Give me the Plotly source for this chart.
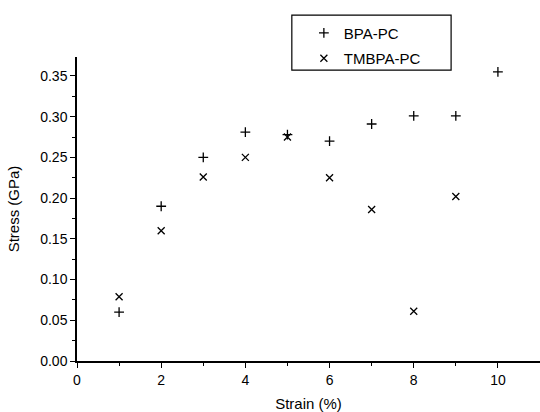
import plotly.graph_objects as go

strain = [1, 2, 3, 4, 5, 6, 7, 8, 9, 10]
bpa_pc = [0.060, 0.190, 0.250, 0.281, 0.278, 0.270, 0.291, 0.301, 0.301, 0.355]
tmbpa_x = [1, 2, 3, 4, 5, 6, 7, 8, 9]
tmbpa_pc = [0.079, 0.160, 0.226, 0.250, 0.275, 0.225, 0.186, 0.061, 0.202]

x_ticks = [0, 2, 4, 6, 8, 10]
y_ticks = [0.00, 0.05, 0.10, 0.15, 0.20, 0.25, 0.30, 0.35]
y_labels = ["0.00", "0.05", "0.10", "0.15", "0.20", "0.25", "0.30", "0.35"]

fig = go.Figure()
fig.add_trace(go.Scatter(
    x=strain, y=bpa_pc, mode="markers", name="BPA-PC", legendgroup="a",
    marker=dict(symbol="cross-thin", size=7, color="black", line=dict(color="black", width=1.3)),
))
fig.add_trace(go.Scatter(
    x=tmbpa_x, y=tmbpa_pc, mode="markers", name="TMBPA-PC", legendgroup="b",
    marker=dict(symbol="x-thin", size=7, color="black", line=dict(color="black", width=1.3)),
))

fam = "Liberation Sans, Arial, sans-serif"

fig.update_layout(
    width=540, height=412,
    margin=dict(l=77, r=0, t=57, b=51),
    paper_bgcolor="white", plot_bgcolor="white",
    font=dict(family=fam, size=14, color="black"),
    showlegend=True,
    legend=dict(
        x=0.49, y=1.133, xanchor="left", yanchor="top",
        borderwidth=0, bgcolor="rgba(0,0,0,0)",
        font=dict(family=fam, size=15, color="black"),
        itemwidth=30, tracegroupgap=3,
    ),
    shapes=[dict(
        type="rect", xref="paper", yref="paper",
        x0=0.464, x1=0.808, y0=0.957, y1=1.138,
        line=dict(color="black", width=1.2), fillcolor="rgba(0,0,0,0)", layer="above",
    )],
    xaxis=dict(
        range=[0, 11], tickvals=x_ticks, ticktext=[str(v) for v in x_ticks],
        showgrid=False, zeroline=False, showline=True, linecolor="black", linewidth=1.5,
        ticks="outside", ticklen=5, tickwidth=1.2, tickcolor="black", automargin=False,
        minor=dict(ticks="outside", ticklen=3, tickwidth=1, tickcolor="black", dtick=1, tick0=0),
        title=dict(text="Strain (%)", standoff=12, font=dict(size=15)),
    ),
    yaxis=dict(
        range=[0, 0.3733], tickvals=y_ticks, ticktext=y_labels,
        showgrid=False, zeroline=False, showline=True, linecolor="black", linewidth=1.5,
        ticks="outside", ticklen=5, tickwidth=1.2, tickcolor="black", automargin=False,
        minor=dict(ticks="outside", ticklen=3, tickwidth=1, tickcolor="black", dtick=0.025, tick0=0),
        title=dict(text="Stress (GPa)", standoff=17, font=dict(size=15)),
    ),
)

fig.write_html("out.html", config={"displayModeBar": False},
               post_script="document.body.style.margin='0';")
